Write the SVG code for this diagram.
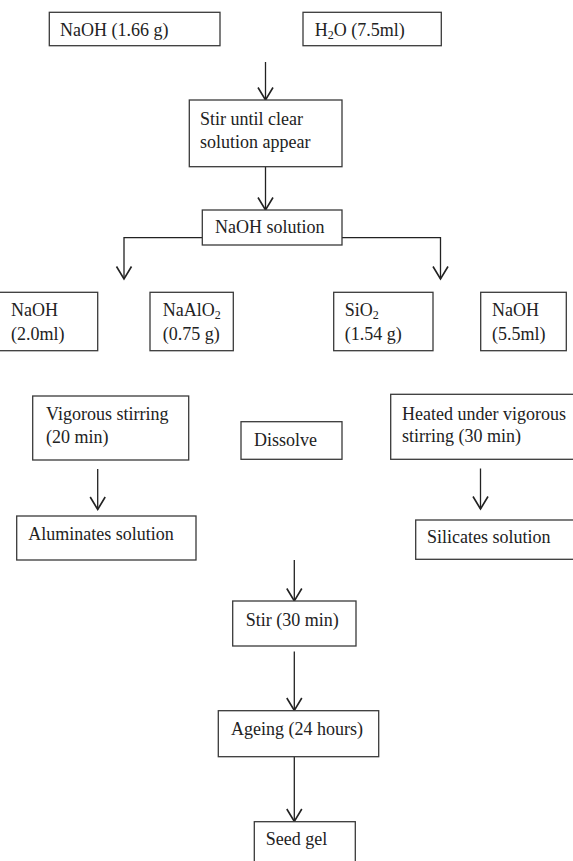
<svg xmlns="http://www.w3.org/2000/svg" width="573" height="861" viewBox="0 0 573 861">
<style>
.box{fill:#fff;stroke:#3a3a3a;stroke-width:1.3}
.t{font-family:"Liberation Serif","Times New Roman",serif;font-size:18px;fill:#222}
.sub{font-size:12px}
.c{fill:none;stroke:#222;stroke-width:1.3}
</style>
<defs>
<marker id="ah" markerUnits="userSpaceOnUse" markerWidth="20" markerHeight="20" refX="0" refY="0" orient="auto" viewBox="-12 -8 14 16" style="overflow:visible">
<path d="M-10,-6 L0,0 L-10,6" fill="none" stroke="#222" stroke-width="1.3"/>
</marker>
</defs>
<rect width="573" height="861" fill="#fff"/>
<g id="connectors">
<line class="c" x1="265.5" y1="62" x2="265.5" y2="100" marker-end="url(#ah)"/>
<line class="c" x1="265.5" y1="167" x2="265.5" y2="210" marker-end="url(#ah)"/>
<polyline class="c" points="202,237.7 124,237.7 124,279" marker-end="url(#ah)"/>
<polyline class="c" points="342,237.7 440.5,237.7 440.5,279" marker-end="url(#ah)"/>
<line class="c" x1="97.7" y1="469" x2="97.7" y2="509.5" marker-end="url(#ah)"/>
<line class="c" x1="480.5" y1="468.5" x2="480.5" y2="509" marker-end="url(#ah)"/>
<line class="c" x1="294.3" y1="560" x2="294.3" y2="601" marker-end="url(#ah)"/>
<line class="c" x1="294.3" y1="651.5" x2="294.3" y2="710.5" marker-end="url(#ah)"/>
<line class="c" x1="294.3" y1="757" x2="294.3" y2="821.5" marker-end="url(#ah)"/>
</g>
<g id="naoh1">
<rect class="box" x="49.3" y="12.3" width="170.7" height="33.4"/>
<text class="t" x="60" y="35.5">NaOH (1.66 g)</text>
</g>
<g id="h2o">
<rect class="box" x="303" y="12.3" width="138.3" height="33.4"/>
<text class="t" x="314.7" y="35.5">H<tspan class="sub" dy="3">2</tspan><tspan dy="-3">O (7.5ml)</tspan></text>
</g>
<g id="stir-clear">
<rect class="box" x="189.3" y="100" width="152.7" height="66.7"/>
<text class="t" x="200" y="125">Stir until clear</text>
<text class="t" x="200" y="147.5">solution appear</text>
</g>
<g id="naoh-solution">
<rect class="box" x="202.3" y="210" width="139.7" height="35"/>
<text class="t" x="215" y="233">NaOH solution</text>
</g>
<g id="naoh2">
<rect class="box" x="-2" y="292.3" width="99.7" height="58.4"/>
<text class="t" x="11" y="316">NaOH</text>
<text class="t" x="11" y="340">(2.0ml)</text>
</g>
<g id="naalo2">
<rect class="box" x="150" y="292.3" width="83.3" height="58.4"/>
<text class="t" x="162.7" y="316">NaAlO<tspan class="sub" dy="3">2</tspan></text>
<text class="t" x="162.7" y="340">(0.75 g)</text>
</g>
<g id="sio2">
<rect class="box" x="333.7" y="292.3" width="99.3" height="58.4"/>
<text class="t" x="344.7" y="316">SiO<tspan class="sub" dy="3">2</tspan></text>
<text class="t" x="344.7" y="340">(1.54  g)</text>
</g>
<g id="naoh3">
<rect class="box" x="480.7" y="292.3" width="85.6" height="58.4"/>
<text class="t" x="492" y="316">NaOH</text>
<text class="t" x="492" y="340">(5.5ml)</text>
</g>
<g id="vigorous">
<rect class="box" x="32.7" y="396" width="156" height="64"/>
<text class="t" x="46" y="420">Vigorous stirring</text>
<text class="t" x="46" y="442.7">(20 min)</text>
</g>
<g id="dissolve">
<rect class="box" x="241" y="421.7" width="101" height="37.6"/>
<text class="t" x="254" y="446">Dissolve</text>
</g>
<g id="heated">
<rect class="box" x="390.7" y="394.3" width="190" height="65"/>
<text class="t" x="402" y="420">Heated under vigorous</text>
<text class="t" x="402" y="441.7">stirring (30 min)</text>
</g>
<g id="aluminates">
<rect class="box" x="16.7" y="516" width="179.3" height="44"/>
<text class="t" x="28.3" y="540">Aluminates solution</text>
</g>
<g id="silicates">
<rect class="box" x="415.7" y="520" width="170" height="39.3"/>
<text class="t" x="427" y="543.3">Silicates solution</text>
</g>
<g id="stir30">
<rect class="box" x="232.7" y="601" width="123.3" height="45"/>
<text class="t" x="245.7" y="626">Stir (30 min)</text>
</g>
<g id="ageing">
<rect class="box" x="218.3" y="710.7" width="160.4" height="46"/>
<text class="t" x="231" y="735">Ageing (24 hours)</text>
</g>
<g id="seedgel">
<rect class="box" x="254.3" y="821.7" width="101" height="50"/>
<text class="t" x="265.7" y="845">Seed gel</text>
</g>
</svg>
